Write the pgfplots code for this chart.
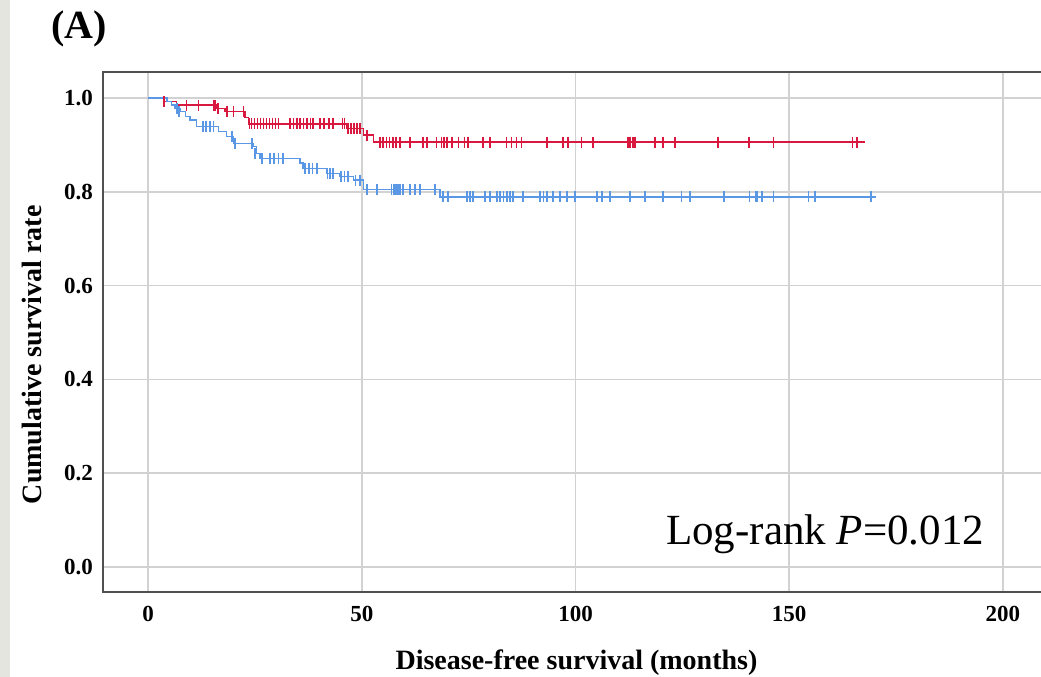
\documentclass[border=0pt]{standalone}
\usepackage{fontspec}
\setmainfont{Liberation Serif}
\usepackage{pgfplots}
\pgfplotsset{compat=1.18}
\definecolor{kmred}{RGB}{216,24,62}
\definecolor{kmblue}{RGB}{90,152,230}
\definecolor{gridg}{RGB}{210,210,210}
\definecolor{frameg}{RGB}{80,80,80}
\definecolor{stripg}{RGB}{229,229,223}
\begin{document}
\begin{tikzpicture}
\useasboundingbox (0,0) rectangle (1041pt,-677pt);
\fill[white] (0,0) rectangle (1041pt,-677pt);
\fill[stripg] (0,0) rectangle (10pt,-677pt);
\node[font=\fontsize{40}{44}\selectfont\bfseries] at (79pt,-29pt) {(A)};
\begin{axis}[
  scale only axis,
  width=947pt, height=520pt,
  at={(103pt,-592pt)}, anchor=south west,
  xmin=-10.53, xmax=211.0,
  ymin=-0.0533, ymax=1.0554,
  xtick={0,50,100,150,200},
  ytick={0,0.2,0.4,0.6,0.8,1.0},
  yticklabel style={/pgf/number format/fixed, /pgf/number format/fixed zerofill, /pgf/number format/precision=1},
  /pgf/number format/assume math mode=true,
  ticklabel style={font=\fontsize{23}{25}\selectfont\bfseries},
  yticklabel style={anchor=east, inner sep=0pt, xshift=-10pt},
  xticklabel style={anchor=north, inner sep=0pt, yshift=-14pt},
  major tick length=0pt,
  grid=major,
  major grid style={draw=gridg, line width=1.5pt},
  axis line style={draw=frameg, line width=2.4pt},
  xlabel={Disease-free survival (months)},
  ylabel={Cumulative survival rate},
  label style={font=\fontsize{28}{30}\selectfont\bfseries},
  xlabel style={at={(axis description cs:0.5,-0.1365)}, anchor=center},
  ylabel style={at={(axis description cs:-0.075,0.456)}, anchor=center},
]
% red group: step curve
\addplot[kmred, line width=1.4pt, const plot, mark=none] coordinates {
(0,1.0) (3.6,0.992) (6.7,0.985) (16.0,0.978) (18.0,0.971) (22.7,0.958)
(23.5,0.9446) (46.5,0.935) (50.4,0.921) (52.7,0.906) (167.7,0.906)
};
% red censor marks
\addplot[kmred, only marks, mark=|, mark size=5.5pt, mark options={line width=1.6pt}] coordinates {
(3.8,0.992)
(9.0,0.985) (11.8,0.985) (15.3,0.985) (15.7,0.985)
(16.4,0.978)
(18.5,0.971) (20.0,0.971) (22.3,0.971)
(23.7,0.9446) (24.2,0.9446) (24.9,0.9446) (25.6,0.9446) (26.3,0.9446) (27.0,0.9446)
(27.7,0.9446) (28.4,0.9446) (29.1,0.9446) (29.8,0.9446) (30.5,0.9446)
(33.2,0.9446) (34.0,0.9446) (34.8,0.9446) (35.6,0.9446) (36.4,0.9446) (37.2,0.9446)
(38.0,0.9446) (38.6,0.9446) (40.2,0.9446) (41.2,0.9446) (42.3,0.9446) (43.3,0.9446)
(45.5,0.9446) (46.0,0.9446)
(46.8,0.935) (47.5,0.935) (48.2,0.935) (48.9,0.935) (49.6,0.935)
(51.2,0.921)
(54.3,0.906) (55.0,0.906) (55.8,0.906) (56.5,0.906) (57.3,0.906) (58.0,0.906) (59.0,0.906)
(61.3,0.906) (64.3,0.906) (65.2,0.906) (67.5,0.906) (68.7,0.906) (69.3,0.906) (70.0,0.906)
(71.1,0.906) (72.6,0.906) (74.0,0.906) (74.9,0.906) (78.4,0.906) (80.0,0.906)
(83.9,0.906) (85.0,0.906) (86.2,0.906) (87.4,0.906) (93.3,0.906) (97.1,0.906) (98.3,0.906)
(101.4,0.906) (104.1,0.906) (112.3,0.906) (112.8,0.906) (113.4,0.906) (113.9,0.906)
(118.6,0.906) (120.5,0.906) (123.3,0.906) (133.4,0.906) (140.6,0.906) (146.3,0.906)
(164.8,0.906) (165.9,0.906)
};
% blue group: step curve
\addplot[kmblue, line width=1.4pt, const plot, mark=none] coordinates {
(0,1.0) (4.4,0.992) (5.5,0.985) (6.3,0.978) (7.5,0.971) (8.7,0.960) (9.8,0.953)
(11.4,0.939) (16.5,0.928) (18.4,0.918) (20.0,0.903) (24.6,0.896) (25.4,0.882)
(26.2,0.871) (35.6,0.861) (36.3,0.850) (41.8,0.839) (44.9,0.832) (48.0,0.825)
(50.4,0.805) (68.3,0.789) (170.3,0.789)
};
% blue censor marks
\addplot[kmblue, only marks, mark=|, mark size=5.5pt, mark options={line width=1.6pt}] coordinates {
(6.8,0.978) (7.2,0.971)
(12.9,0.939) (13.6,0.939) (14.5,0.939) (15.3,0.939)
(19.6,0.918) (20.4,0.903) (24.3,0.903) (25.0,0.882)
(26.6,0.871) (28.5,0.871) (29.5,0.871) (30.5,0.871) (31.6,0.871)
(36.7,0.850) (37.6,0.850) (38.5,0.850) (39.5,0.850)
(42.0,0.839) (42.6,0.839) (43.3,0.839)
(45.2,0.832) (46.0,0.832) (46.8,0.832)
(48.5,0.825) (49.6,0.825)
(51.2,0.805) (53.5,0.805) (57.0,0.805) (57.5,0.805) (58.0,0.805) (58.5,0.805) (59.0,0.805)
(59.7,0.805) (61.3,0.805) (62.5,0.805) (63.6,0.805) (67.1,0.805)
(69.0,0.789) (70.2,0.789) (74.6,0.789) (75.3,0.789) (76.0,0.789) (78.8,0.789) (80.0,0.789)
(81.6,0.789) (82.4,0.789) (83.2,0.789) (84.0,0.789) (84.7,0.789) (85.4,0.789) (87.7,0.789)
(91.7,0.789) (92.5,0.789) (93.3,0.789) (94.8,0.789) (96.4,0.789) (98.0,0.789) (99.9,0.789)
(105.0,0.789) (106.2,0.789) (108.1,0.789) (112.7,0.789) (116.3,0.789) (120.5,0.789)
(124.8,0.789) (126.8,0.789) (134.7,0.789) (140.7,0.789) (142.2,0.789) (142.6,0.789)
(143.6,0.789) (146.3,0.789) (154.5,0.789) (156.0,0.789) (169.1,0.789)
};
\node[anchor=base, font=\fontsize{43}{46}\selectfont] at (axis cs:158.4,0.047) {Log-rank \textit{P}=0.012};
\end{axis}
\end{tikzpicture}
\end{document}
